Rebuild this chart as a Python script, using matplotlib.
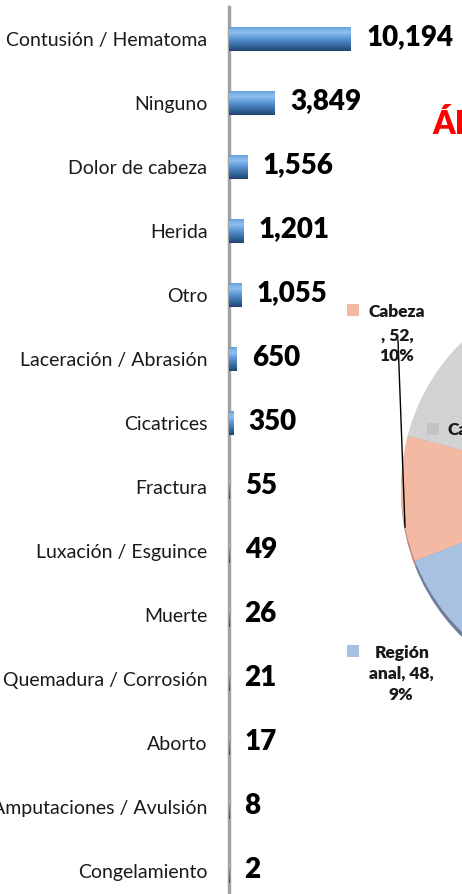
import matplotlib.pyplot as plt
import numpy as np
from matplotlib.colors import LinearSegmentedColormap

plt.rcParams["font.family"] = ["Lato", "DejaVu Sans"]

# datos de las barras
categorias = [
    "Contusión / Hematoma",
    "Ninguno",
    "Dolor de cabeza",
    "Herida",
    "Otro",
    "Laceración / Abrasión",
    "Cicatrices",
    "Fractura",
    "Luxación / Esguince",
    "Muerte",
    "Quemadura / Corrosión",
    "Aborto",
    "Amputaciones / Avulsión",
    "Congelamiento",
]
valores = [10194, 3849, 1556, 1201, 1055, 650, 350, 55, 49, 26, 21, 17, 8, 2]

# datos del pastel (solo se ve una parte)
pie_etiquetas = ["Cabeza", "Región anal", "Otras regiones", "Cara"]
pie_valores = [52, 48, 270, 150]
pie_colores = ["#F3B9A3", "#A8C0E2", "#C9C9C9", "#D2D2D2"]
pie_sombra = ["#B98A7A", "#6E7F99", "#999999", "#A0A0A0"]
titulo = "ÁREA DEL CUERPO"

W, H = 462, 894
fig = plt.figure(figsize=(W / 100, H / 100), dpi=100)

# ---- pastel, en coordenadas de pixel ----
pax = fig.add_axes([0, 0, 1, 1])
cx, cy, r = 604, H - 487, 203
pax.pie(pie_valores, colors=pie_sombra, startangle=165.4, radius=r,
        center=(cx, cy - 5), frame=True,
        wedgeprops=dict(linewidth=0))
pax.pie(pie_valores, colors=pie_colores, startangle=165.4, radius=r,
        center=(cx, cy), frame=True,
        wedgeprops=dict(linewidth=0))
pax.set_xlim(0, W)
pax.set_ylim(0, H)
pax.axis("off")

total = sum(pie_valores)
pct = [round(v / total * 100) for v in pie_valores]

# etiqueta Cabeza
pax.plot([398, 405], [H - 340, H - 527], color="k", linewidth=1)
pax.scatter([353], [H - 310], marker="s", s=80, color=pie_colores[0], linewidths=0)
lab_kw = dict(fontsize=12.5, fontweight="heavy", ha="center", va="center", color="#1a1a1a")
pax.text(397, H - 312, pie_etiquetas[0], **lab_kw)
pax.text(397, H - 336, f", {pie_valores[0]},", **lab_kw)
pax.text(397, H - 356, f"{pct[0]}%", **lab_kw)

# etiqueta Región anal
nombre = pie_etiquetas[1].split(" ")
pax.scatter([353], [H - 651], marker="s", s=80, color=pie_colores[1], linewidths=0)
pax.text(402, H - 653, nombre[0], **lab_kw)
pax.text(401, H - 674, f"{nombre[1]}, {pie_valores[1]},", **lab_kw)
pax.text(401, H - 695, f"{pct[1]}%", **lab_kw)

# etiqueta Cara (cortada)
pax.scatter([433], [H - 429], marker="s", s=80, color="#C4C4C4", linewidths=0)
pax.text(447, H - 430, pie_etiquetas[3], fontsize=12.5, fontweight="heavy",
         ha="left", va="center", color="#1a1a1a")

pax.text(432, H - 134, titulo, color="#FF0000", fontsize=23,
         fontweight="heavy", ha="left", va="baseline")

# ---- barras ----
ax = fig.add_axes([229 / W, (H - 903) / H, (W - 229) / W, 896 / H])
ax.set_facecolor("none")
y = np.arange(len(categorias))
alto = 0.39
barras = ax.barh(y, valores, height=alto, color="#4F81BD", linewidth=0)

grad = LinearSegmentedColormap.from_list(
    "cil", ["#5E9AD6", "#8EC1F0", "#5A96D6", "#3A6FA8", "#1F4670"])
g = np.linspace(0, 1, 64).reshape(-1, 1)
for b in barras:
    x0, y0 = b.get_x(), b.get_y()
    w, h = b.get_width(), b.get_height()
    im = ax.imshow(g, cmap=grad, aspect="auto", origin="upper",
                   extent=(x0, x0 + w, y0 + h, y0), zorder=3)
    im.set_clip_path(b)

for i, v in enumerate(valores):
    ax.annotate(f"{v:,}", xy=(v, i), xytext=(11, 1), textcoords="offset points",
                va="center", ha="left", fontsize=20, fontweight="heavy", color="black")

ax.set_xlim(0, 19500)
ax.set_ylim(len(categorias) - 0.5, -0.5)
ax.set_yticks(y)
ax.set_yticklabels(categorias, fontsize=14, color="#1a1a1a")
ax.tick_params(axis="y", length=0, pad=15.5)
ax.set_xticks([])
for s in ["top", "right", "bottom"]:
    ax.spines[s].set_visible(False)
ax.spines["left"].set_color("#A3A3A3")
ax.spines["left"].set_linewidth(2.5)

fig.savefig("out.png", dpi=100)
